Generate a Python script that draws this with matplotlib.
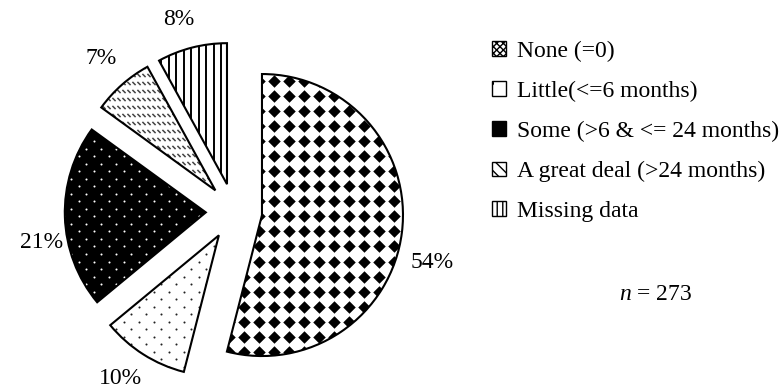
import matplotlib
matplotlib.use('Agg')
import matplotlib.pyplot as plt
import matplotlib.patches as mpatches
from matplotlib.collections import LineCollection
import numpy as np

# Experience groups and their share of respondents (%)
categories = ['None (=0)', 'Little(<=6 months)', 'Some (>6 & <= 24 months)',
              'A great deal (>24 months)', 'Missing data']
shares = [54, 10, 21, 7, 8]
n_total = 273

plt.rcParams['font.family'] = ['Liberation Serif', 'DejaVu Serif']
plt.rcParams['mathtext.fontset'] = 'custom'
plt.rcParams['mathtext.it'] = 'Liberation Serif:italic'
plt.rcParams['mathtext.rm'] = 'Liberation Serif'
plt.rcParams['hatch.linewidth'] = 1.0

W, H = 784, 391
CX, CY, R = 234, 211.5, 141   # pie centre / radius in pixels
PX = 1.0 / R                  # one pixel in data units


def to_data(px, py):
    return (px - CX) * PX, (CY - py) * PX


fig = plt.figure(figsize=(W / 100, H / 100), dpi=100)
ax = fig.add_axes([0, 0, 1, 1])

faces = ['white', 'white', 'black', 'white', 'white']
wedges, _ = ax.pie(shares, startangle=90, counterclock=False, radius=1,
                   explode=[0.2] * len(shares), colors=faces,
                   wedgeprops=dict(linewidth=0))

ax.set_xlim(-CX * PX, (W - CX) * PX)
ax.set_ylim((CY - H) * PX, CY * PX)
ax.set_aspect('equal')
ax.axis('off')

# grid covering the whole pie area, in pixel steps
def lattice(dx, dy, stagger):
    pts = []
    rows = np.arange(-200, 200, dy)
    for k, y in enumerate(rows):
        off = dx / 2 if (stagger and k % 2) else 0
        for x in np.arange(-200, 200, dx):
            pts.append((x + off, y))
    return np.array(pts) * PX

# None: black diamonds (rotated checkerboard)
g = lattice(15, 15, False)
sc = ax.scatter(g[:, 0], g[:, 1], s=(12.5 * 0.72) ** 2, marker=(4, 0, 0),
                c='black', linewidths=0, zorder=2)
sc.set_clip_path(wedges[0])

# Little: small black dots
g = lattice(15, 7.5, True)
sc = ax.scatter(g[:, 0], g[:, 1], s=2.2, c='#222222', linewidths=0, zorder=2)
sc.set_clip_path(wedges[1])

# Some: white dots on black
sc = ax.scatter(g[:, 0], g[:, 1], s=2.2, c='white', linewidths=0, zorder=2)
sc.set_clip_path(wedges[2])

# A great deal: rows of short backslash dashes
segs = []
for y in np.arange(-200, 200, 8):
    for x in np.arange(-200, 200, 5):
        segs.append([((x - 1.6) * PX, (y + 1.6) * PX), ((x + 1.6) * PX, (y - 1.6) * PX)])
lc = LineCollection(segs, colors='#444444', linewidths=1.1, zorder=2)
ax.add_collection(lc)
lc.set_clip_path(wedges[3])

# Missing: vertical stripes
segs = [[(x * PX, -200 * PX), (x * PX, 200 * PX)] for x in np.arange(-200, 200, 7.5)]
lc = LineCollection(segs, colors='black', linewidths=1.4, zorder=2)
ax.add_collection(lc)
lc.set_clip_path(wedges[4])

# outlines on top of the textures
for w in wedges:
    ax.add_patch(mpatches.Wedge(w.center, w.r, w.theta1, w.theta2, fill=False,
                                edgecolor='black', linewidth=1.5, zorder=3))

# percentage labels
label_pos = [(432, 263), (120, 379), (42, 243), (101, 59), (179, 20)]
for v, (lx, ly) in zip(shares, label_pos):
    ax.text(*to_data(lx, ly), f'{v}%', fontsize=17, ha='center', va='center')

# legend
hatches = ['xxxxx', '.', '', '\\\\\\', '|||']
handles = [mpatches.Patch(facecolor=f, edgecolor='black', hatch=h, linewidth=1)
           for f, h in zip(faces, hatches)]
ax.legend(handles, categories, loc='upper left',
          bbox_to_anchor=(492 / W, 1 - 41 / H), frameon=False, fontsize=17,
          handlelength=0.6, handleheight=0.6, handletextpad=0.45,
          labelspacing=0.8, borderaxespad=0, borderpad=0)

ax.text(*to_data(656, 295), f'$n$ = {n_total}', fontsize=17, ha='center', va='center')

fig.savefig('out.png', dpi=100)
